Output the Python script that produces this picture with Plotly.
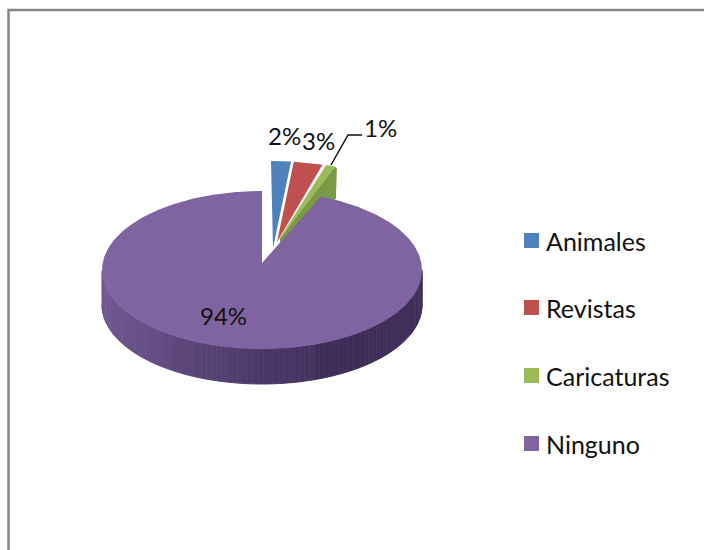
import numpy as np
import plotly.graph_objects as go

categories = ["Animales", "Revistas", "Caricaturas", "Ninguno"]
values = [2, 3, 1, 94]
colors = ["#4f81bd", "#c0504d", "#9bbb59", "#8064a2"]
side_colors = ["#3d6796", "#99403d", "#7a9a45", "#3f2e58"]

# pie geometry in page pixels: centre of each exploded slice, and of the tip
centers = [(271, 240), (273, 240), (276, 240), (262, 270)]
tips = [(273, 248), (277, 242), (280, 238), (262, 263)]
depths = [0, 0, 32, 35]
RX = 160
RY = 79

# label text position
label_pos = [(284, 135), (318, 140), (380, 127), (223, 315)]
leader_x = [331, 348, 362]
leader_y = [165, 135, 135]

# legend layout
legend_x = [531.5, 531.5, 531.5, 531.5]
legend_y = [240.5, 307.5, 375.5, 443.5]

# wall shading of the big slice, left to right, seam near x=317
wall_stops = [(102, (112, 88, 146)), (180, (94, 72, 124)), (262, (76, 56, 104)), (316, (70, 51, 98)), (317, (62, 45, 88)), (422, (64, 47, 90))]

FONT = "Lato, 'Open Sans', sans-serif"
TEXT = "#111111"

fig = go.Figure()

total = sum(values)
edges = np.cumsum([0] + values) / total * 2 * np.pi


def arc(i, n=200):
    t = np.linspace(edges[i], edges[i + 1], n)
    cx, cy = centers[i]
    return cx + RX * np.sin(t), cy - RY * np.cos(t)


def poly(x, y, color, lw=0):
    fig.add_trace(
        go.Scatter(
            x=x, y=y, mode="lines", fill="toself", fillcolor=color,
            line=dict(width=lw, color=color), hoverinfo="skip", showlegend=False,
        )
    )


# small slices first, the big one sits on top of their tips
for i in range(3):
    ax, ay = arc(i)
    tx, ty = tips[i]
    if depths[i]:
        poly(
            [tx, ax[-1], ax[-1] + 2, ax[-1] + 1, tx],
            [ty, ay[-1], ay[-1] + 2, ay[-1] + depths[i], ty + depths[i]],
            side_colors[i],
        )
    poly(np.r_[tx, ax, tx], np.r_[ty, ay, ty], colors[i])

# outer wall of the big slice, only its front half shows
ax, ay = arc(3, 721)
front = np.abs(edges[3] + (edges[4] - edges[3]) * np.linspace(0, 1, 721) - np.pi) < np.pi / 2
wx, wy = ax[front], ay[front]
wall_x = np.array([s[0] for s in wall_stops])
wall_rgb = np.array([s[1] for s in wall_stops])
order = np.argsort(wx)
wx, wy = wx[order], wy[order]
for a in range(0, len(wx) - 1, 4):
    b = min(a + 4, len(wx) - 1)
    mid = (wx[a] + wx[b]) / 2
    rgb = [int(np.interp(mid, wall_x, wall_rgb[:, k])) for k in range(3)]
    c = "rgb(%d,%d,%d)" % tuple(rgb)
    sx = np.r_[wx[a:b + 1], wx[a:b + 1][::-1]]
    sy = np.r_[wy[a:b + 1], wy[a:b + 1][::-1] + depths[3]]
    poly(sx, sy, c, lw=1)

ax, ay = arc(3, 721)
tx, ty = tips[3]
poly(np.r_[tx, ax, tx], np.r_[ty, ay, ty], colors[3])

# leader line for the 1% label
fig.add_trace(
    go.Scatter(
        x=leader_x, y=leader_y, mode="lines", line=dict(color="#111111", width=1.5),
        hoverinfo="skip", showlegend=False,
    )
)

# legend entries
for name, color, lx, ly in zip(categories, colors, legend_x, legend_y):
    fig.add_trace(
        go.Scatter(
            x=[lx], y=[ly], mode="markers", marker=dict(symbol="square", size=15, color=color),
            hoverinfo="skip", showlegend=False,
        )
    )
    fig.add_annotation(
        x=lx + 12, y=ly, text=name, showarrow=False, xanchor="left",
        font=dict(family=FONT, size=25, color=TEXT),
    )

for v, (lx, ly) in zip(values, label_pos):
    fig.add_annotation(
        x=lx, y=ly, text="%d%%" % v, showarrow=False,
        font=dict(family=FONT, size=24, color=TEXT),
    )

fig.add_shape(
    type="rect", x0=8.5, y0=10, x1=720, y1=570,
    line=dict(color="#868686", width=2.5), layer="below",
)

fig.update_layout(
    width=704,
    height=550,
    margin=dict(l=0, r=0, t=0, b=0),
    paper_bgcolor="white",
    plot_bgcolor="white",
    showlegend=False,
    xaxis=dict(range=[0, 704], visible=False, fixedrange=True),
    yaxis=dict(range=[550, 0], visible=False, fixedrange=True),
)

fig.write_html(
    "out.html",
    config=dict(displayModeBar=False),
    post_script="document.body.style.margin='0';document.body.style.overflow='hidden';",
)
